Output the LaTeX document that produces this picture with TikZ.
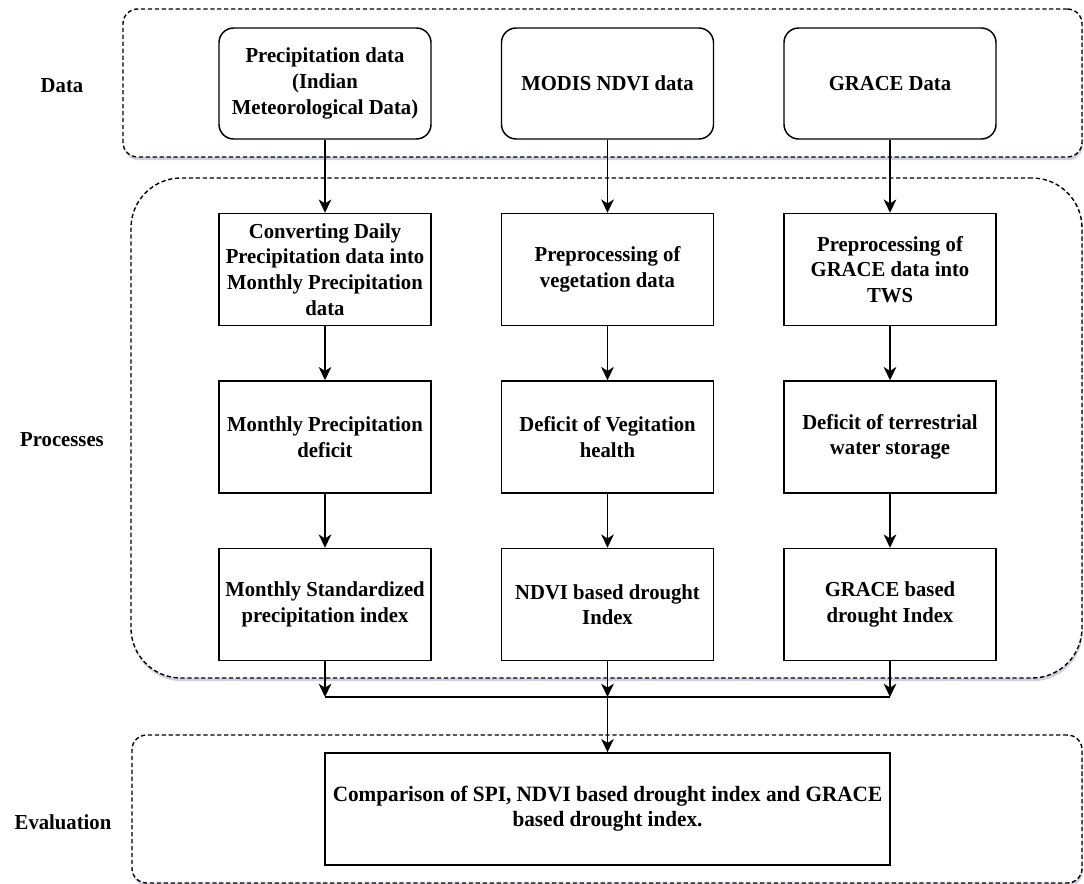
\documentclass[tikz,border=0pt]{standalone}
\usepackage{fontspec}
\setmainfont{Liberation Serif}[FakeStretch=0.97]
\usetikzlibrary{arrows.meta,shadows}
\begin{document}
\begin{tikzpicture}[x=0.75pt,y=-0.75pt,
  every node/.style={font=\fontsize{16pt}{19.2pt}\selectfont\bfseries},
  container/.style={draw, dash pattern=on 3.2pt off 2pt, line width=1.05pt, fill=white,
    drop shadow={shadow xshift=0.6pt, shadow yshift=-2.4pt, opacity=0.3, fill=blue!25!gray}},
  databox/.style={draw, line width=1.1pt, rounded corners=11pt, minimum width=159pt,
    minimum height=83.25pt, align=center, inner sep=2pt, fill=white},
  procbox/.style={draw, line width=1.1pt, minimum width=159pt, minimum height=84pt,
    align=center, inner sep=2pt, fill=white},
  flow/.style={line width=1.1pt, -{Stealth[length=10pt,width=9.5pt,inset=3pt]}},
  joinline/.style={line width=1.1pt},
  sidelabel/.style={align=center}
]
\useasboundingbox (0,0) rectangle (1084,884);

% containers
\node[container, rounded corners=11pt, minimum width=719.25pt, minimum height=111pt] (dataC) at (602.5,83) {};
\node[container, rounded corners=37.5pt, minimum width=713.25pt, minimum height=375pt] (procC) at (606.5,428) {};
\node[container, rounded corners=11pt, minimum width=712.5pt, minimum height=111pt] (evalC) at (607,809) {};

% side labels
\node[sidelabel] (lData) at (62,86) {Data};
\node[sidelabel] (lProc) at (62,440) {Processes};
\node[sidelabel] (lEval) at (63,822) {Evaluation};

% data row
\node[databox] (d1) at (325,83.5) {Precipitation data\\(Indian\\Meteorological Data)};
\node[databox] (d2) at (607.5,83.5) {MODIS NDVI data};
\node[databox] (d3) at (890,83.5) {GRACE Data};

% process rows
\node[procbox] (p1) at (325,269.5) {Converting Daily\\Precipitation data into\\Monthly Precipitation\\data};
\node[procbox] (p2) at (607.5,269.5) {Preprocessing of\\vegetation data};
\node[procbox] (p3) at (890,269.5) {Preprocessing of\\GRACE data into\\TWS};

\node[procbox] (q1) at (325,437) {Monthly Precipitation\\deficit};
\node[procbox] (q2) at (607.5,437) {Deficit of Vegitation\\health};
\node[procbox] (q3) at (890,437) {Deficit of terrestrial\\water storage};

\node[procbox] (s1) at (325,604.5) {Monthly Standardized\\precipitation index};
\node[procbox] (s2) at (607.5,604.5) {NDVI based drought\\Index};
\node[procbox] (s3) at (890,604.5) {GRACE based\\drought Index};

% evaluation box
\node[procbox, minimum width=423.75pt, minimum height=84pt,
  font=\fontsize{16.4pt}{19pt}\selectfont\bfseries] (ev) at (607.5,809)
  {Comparison of SPI, NDVI based drought index and GRACE\\based drought index.};

% merge points
\coordinate (m1) at (325,697);
\coordinate (m2) at (607.5,697);
\coordinate (m3) at (890,697);

% connectors
\draw[flow] (d1) -- (p1);
\draw[flow] (d2) -- (p2);
\draw[flow] (d3) -- (p3);
\draw[flow] (p1) -- (q1);
\draw[flow] (p2) -- (q2);
\draw[flow] (p3) -- (q3);
\draw[flow] (q1) -- (s1);
\draw[flow] (q2) -- (s2);
\draw[flow] (q3) -- (s3);
\draw[flow] (s1.south) -- (m1);
\draw[flow] (s2.south) -- (m2);
\draw[flow] (s3.south) -- (m3);
\draw[joinline] (m1) -- (m3);
\draw[flow] (m2) -- (ev.north);
\end{tikzpicture}
\end{document}
